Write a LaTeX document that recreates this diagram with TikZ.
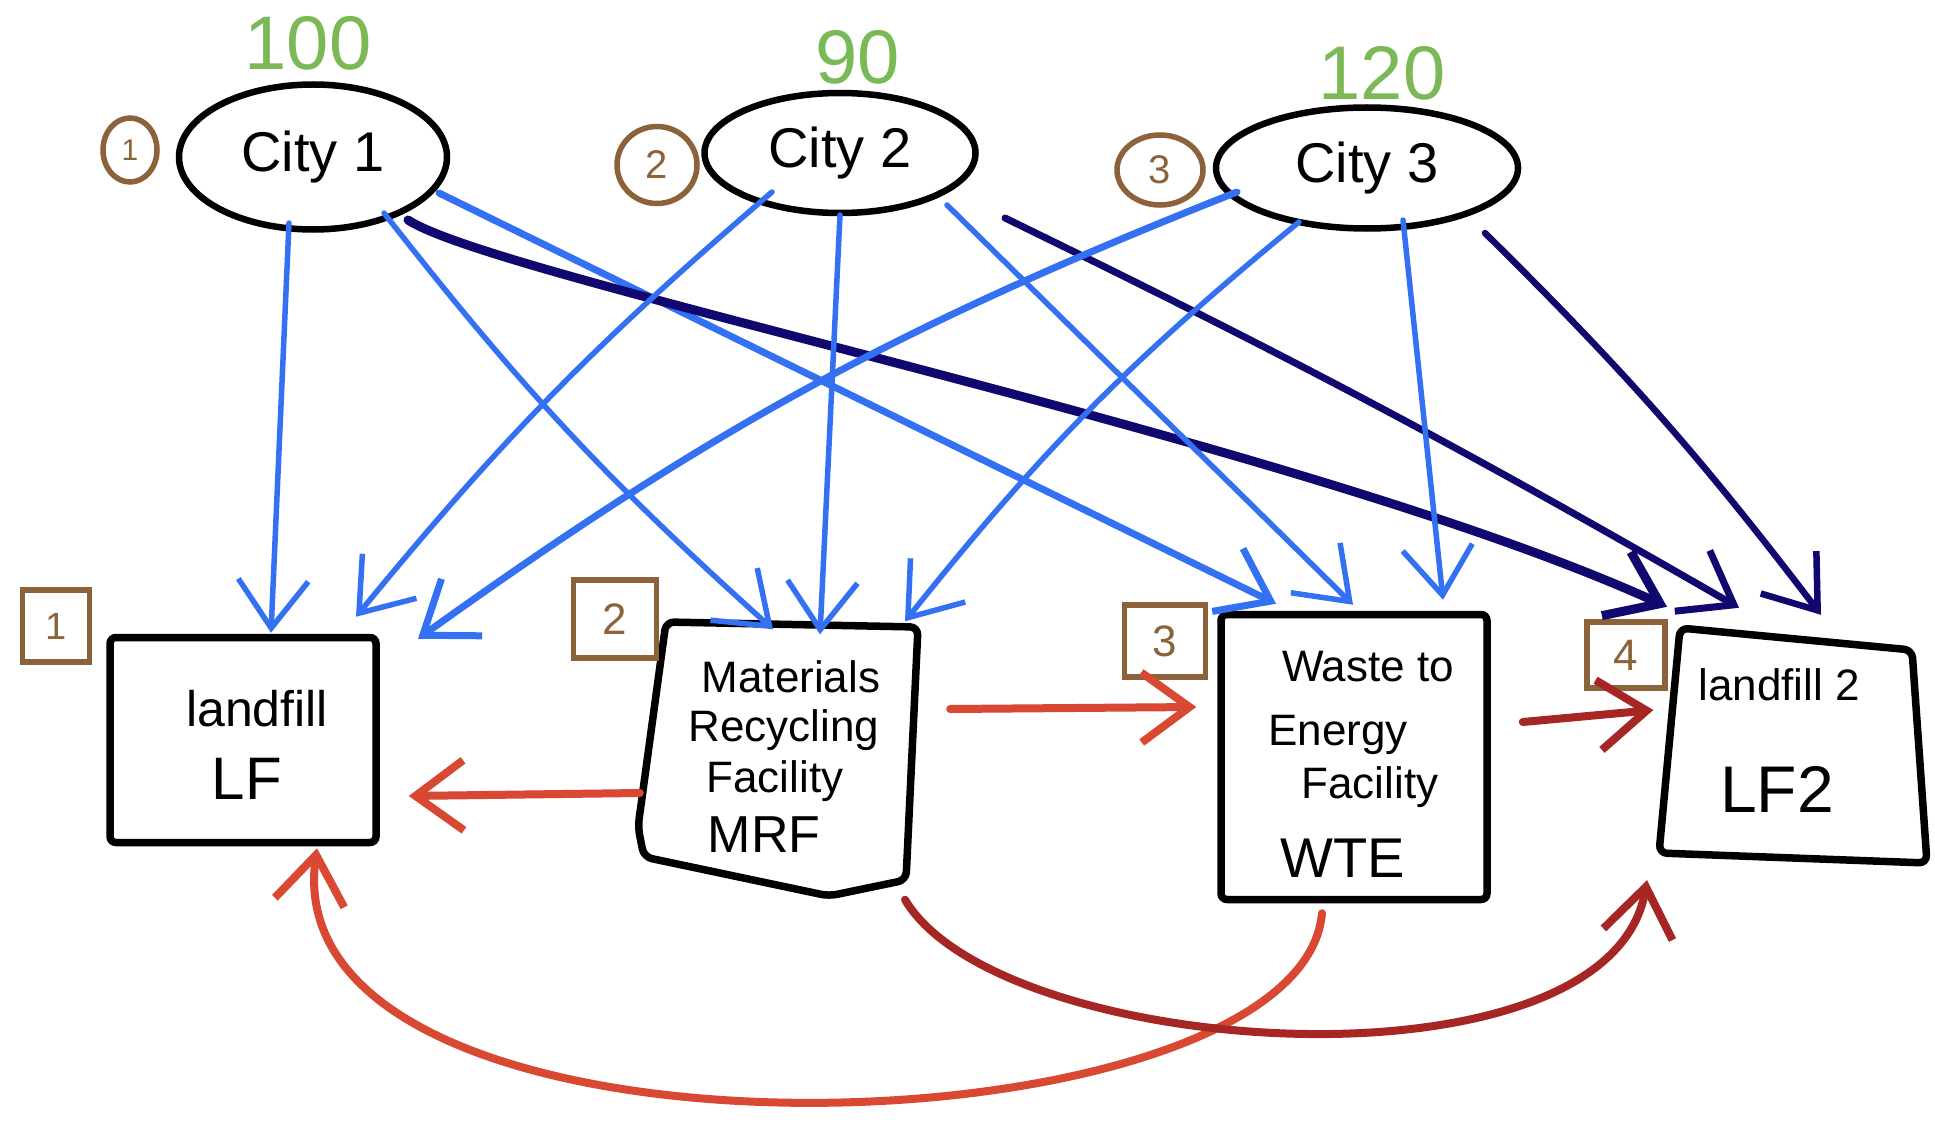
\documentclass[tikz,border=0pt]{standalone}
\usepackage{fontspec}
\setmainfont{Liberation Sans}
\usetikzlibrary{arrows.meta,shapes.geometric}
\definecolor{cblue}{HTML}{3371F2}
\definecolor{cnavy}{HTML}{10086E}
\definecolor{cred}{HTML}{D94832}
\definecolor{cdred}{HTML}{A52622}
\definecolor{cbrown}{HTML}{8C623A}
\definecolor{cgreen}{HTML}{7AB955}
\tikzset{
  cityn/.style={ellipse, draw=black, line width=6.5pt, inner sep=0pt, font=\fontsize{56}{64}\selectfont},
  num/.style={text=cgreen, inner sep=0pt, font=\fontsize{76}{90}\selectfont},
  circl/.style={ellipse, draw=cbrown, line width=5.5pt, text=cbrown, inner sep=0pt, font=\fontsize{40}{46}\selectfont},
  sq/.style={rectangle, draw=cbrown, line width=5.5pt, text=cbrown, inner sep=0pt, font=\fontsize{44}{50}\selectfont},
  boxn/.style={rectangle, draw=black, line width=7.5pt, rounded corners=6pt, inner sep=0pt},
  boxline/.style={draw=black, line width=7.5pt, rounded corners=8pt, line join=round},
  txt/.style={inner sep=0pt, font=\fontsize{44}{50}\selectfont},
  arr/.style={line cap=round, line join=round, -{Straight Barb[length=48pt,width=70pt]}},
  bl/.style={arr, draw=cblue, line width=5.5pt},
  blt/.style={arr, draw=cblue, line width=7pt},
  nv/.style={arr, draw=cnavy},
  rd/.style={arr, draw=cred, line width=8pt},
  drd/.style={arr, draw=cdred, line width=8pt}
}
\begin{document}
\begin{tikzpicture}[x=1pt,y=1pt]
\useasboundingbox[fill=white] (0,0) rectangle (1935,-1134);

% supplies
\node[num] (n1) at (308,-43) {100};
\node[num] (n2) at (858,-57) {90};
\node[num] (n3) at (1382,-73) {120};

% cities
\node[cityn, minimum width=268pt, minimum height=145pt] (c1) at (313,-157) {City 1};
\node[cityn, minimum width=271pt, minimum height=120pt] (c2) at (840,-153) {City 2};
\node[cityn, minimum width=302pt, minimum height=121pt] (c3) at (1367,-168) {City 3};

% circled indices
\node[circl, minimum width=54pt, minimum height=64pt, font=\fontsize{30}{34}\selectfont] (o1) at (130,-150) {1};
\node[circl, minimum width=80pt, minimum height=77pt] (o2) at (657,-165) {2};
\node[circl, minimum width=86pt, minimum height=70pt] (o3) at (1160,-170) {3};

% facility boxes
\node[boxn, minimum width=266pt, minimum height=205pt] (lf) at (243,-740) {};
\node[inner sep=0pt, minimum width=280pt, minimum height=275pt] (mrf) at (782,-757) {};
\draw[boxline] (666,-622) -- (918,-627) -- (906,-880) -- (829,-896) -- (644,-857) -- (638,-827) -- cycle;
\node[boxn, minimum width=266pt, minimum height=285pt] (wte) at (1354,-757) {};
\node[inner sep=0pt, minimum width=265pt, minimum height=230pt] (lf2) at (1793,-746) {};
\draw[boxline] (1680,-628) -- (1912,-650) -- (1927,-863) -- (1659,-853) -- cycle;

% squared indices
\node[sq, minimum width=67pt, minimum height=72pt, font=\fontsize{38}{42}\selectfont] (s1) at (56,-626) {1};
\node[sq, minimum width=83pt, minimum height=78pt] (s2) at (615,-619) {2};
\node[sq, minimum width=81pt, minimum height=72pt] (s3) at (1165,-641) {3};
\node[sq, minimum width=78pt, minimum height=66pt] (s4) at (1626,-655) {4};

% box texts
\node[txt, font=\fontsize{50}{56}\selectfont] (lft1) at (257,-709) {landfill};
\node[txt, font=\fontsize{60}{66}\selectfont] (lft2) at (247,-779) {LF};
\node[txt] (mrft1) at (791,-677) {Materials};
\node[txt] (mrft2) at (784,-730) {Recycling};
\node[txt] (mrft3) at (775,-781) {Facility};
\node[txt, font=\fontsize{52}{58}\selectfont] (mrft4) at (764,-835) {MRF};
\node[txt] (wtet1) at (1368,-667) {Waste to};
\node[txt] (wtet2) at (1338,-735) {Energy};
\node[txt] (wtet3) at (1370,-787) {Facility};
\node[txt, font=\fontsize{56}{62}\selectfont] (wtet4) at (1343,-858) {WTE};
\node[txt] (lf2t1) at (1779,-685) {landfill 2};
\node[txt, font=\fontsize{66}{72}\selectfont] (lf2t2) at (1777,-789) {LF2};

% City 1 flows
\draw[bl] ([shift={(-24,-66)}]c1.center) -- ([shift={(28,1)}]lf.north);
\draw[bl] ([shift={(71,-56)}]c1.center) to[bend right=5] ([shift={(-9,-10)}]mrf.north);
\draw[blt] ([shift={(126,-36)}]c1.center) -- ([shift={(-78,7)}]wte.north);
\draw[nv, line width=9pt] ([shift={(95,-63)}]c1.center) .. controls (500,-280) and (1300,-440) .. ([shift={(-126,24)}]lf2.north);

% City 2 flows
\draw[bl] ([shift={(-68,-39)}]c2.center) to[bend right=5] ([shift={(113,17)}]lf.north);
\draw[bl] ([shift={(0,-62)}]c2.center) -- ([shift={(38,-15)}]mrf.north);
\draw[bl] ([shift={(107,-52)}]c2.center) -- ([shift={(-1,6)}]wte.north);
\draw[nv, line width=7pt] ([shift={(165,-65)}]c2.center) to[bend left=2] ([shift={(-54,23)}]lf2.north);

% City 3 flows
\draw[blt] ([shift={(-130,-24)}]c3.center) to[bend right=7] ([shift={(175,-5)}]lf.north);
\draw[bl] ([shift={(-68,-54)}]c3.center) to[bend right=6] ([shift={(123,-2)}]mrf.north);
\draw[bl] ([shift={(36,-52)}]c3.center) -- ([shift={(89,11)}]wte.north);
\draw[nv, line width=6.5pt] ([shift={(118,-65)}]c3.center) to[bend left=4] ([shift={(28,16)}]lf2.north);

% residual flows
\draw[rd] ([shift={(-2,-36)}]mrf.west) -- ([shift={(29,-56)}]lf.east);
\draw[rd] ([shift={(28,48)}]mrf.east) -- ([shift={(-21,50)}]wte.west);
\draw[drd] ([shift={(32,35)}]wte.east) -- ([shift={(-7,36)}]lf2.west);
\draw[rd] ([shift={(-32,-10)}]wte.south) .. controls (1300,-1160) and (270,-1190) .. ([shift={(74,-2)}]lf.south);
\draw[drd] ([shift={(123,-5)}]mrf.south) .. controls (1000,-1060) and (1610,-1100) .. ([shift={(-146,-19)}]lf2.south);
\end{tikzpicture}
\end{document}
